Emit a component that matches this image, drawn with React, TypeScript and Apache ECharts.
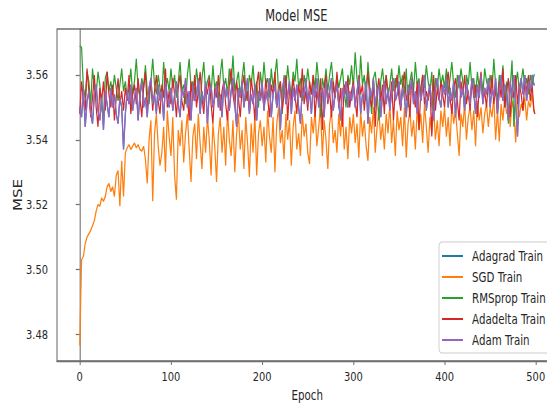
import React, { useEffect, useRef } from "react";
import * as echarts from "echarts";

// sample epochs (x positions of the read-off points)
const epochs = [...Array.from({ length: 250 }, (_, i) => i * 2), 499];

const seriesNames = ["Adagrad Train", "SGD Train", "RMSprop Train", "Adadelta Train", "Adam Train"];
const seriesColors = ["#1f77b4", "#ff7f0e", "#2ca02c", "#d62728", "#9467bd"];

const xTicks = [0, 100, 200, 300, 400, 500];
const yTicks = [3.48, 3.5, 3.52, 3.54, 3.56];

const sgdTrain = [
  3.4765, 3.5030, 3.5040, 3.5080, 3.5100, 3.5110, 3.5120, 3.5135, 3.5150, 3.5180, 3.5200, 3.5195, 3.5220, 3.5210, 3.5225, 3.5255, 3.5265, 3.5240, 3.5255, 3.5225, 3.5290, 3.5305, 3.5195, 3.5335, 3.5225,
  3.5360, 3.5375, 3.5385, 3.5370, 3.5380, 3.5390, 3.5375, 3.5385, 3.5370, 3.5365, 3.5380, 3.5340, 3.5265, 3.5400, 3.5460, 3.5210, 3.5420, 3.5480, 3.5380, 3.5320, 3.5360, 3.5440, 3.5300, 3.5490, 3.5410,
  3.5350, 3.5470, 3.5290, 3.5215, 3.5430, 3.5380, 3.5460, 3.5330, 3.5420, 3.5480, 3.5370, 3.5270, 3.5410, 3.5450, 3.5340, 3.5480, 3.5390, 3.5310, 3.5440, 3.5360, 3.5470, 3.5400, 3.5290, 3.5450, 3.5380,
  3.5270, 3.5420, 3.5470, 3.5360, 3.5440, 3.5320, 3.5490, 3.5400, 3.5350, 3.5460, 3.5300, 3.5420, 3.5480, 3.5370, 3.5430, 3.5310, 3.5470, 3.5390, 3.5285, 3.5450, 3.5360, 3.5480, 3.5290, 3.5420, 3.5460,
  3.5380, 3.5440, 3.5330, 3.5490, 3.5410, 3.5360, 3.5470, 3.5300, 3.5450, 3.5500, 3.5390, 3.5430, 3.5340, 3.5480, 3.5400, 3.5460, 3.5320, 3.5440, 3.5490, 3.5370, 3.5420, 3.5350, 3.5480, 3.5410, 3.5450,
  3.5360, 3.5325, 3.5470, 3.5420, 3.5490, 3.5380, 3.5440, 3.5500, 3.5350, 3.5460, 3.5400, 3.5310, 3.5450, 3.5490, 3.5390, 3.5430, 3.5360, 3.5480, 3.5410, 3.5500, 3.5370, 3.5440, 3.5340, 3.5470, 3.5420,
  3.5480, 3.5390, 3.5450, 3.5345, 3.5490, 3.5410, 3.5460, 3.5380, 3.5335, 3.5470, 3.5420, 3.5500, 3.5360, 3.5440, 3.5490, 3.5400, 3.5450, 3.5370, 3.5480, 3.5420, 3.5510, 3.5390, 3.5460, 3.5350, 3.5490,
  3.5430, 3.5470, 3.5380, 3.5500, 3.5345, 3.5450, 3.5490, 3.5410, 3.5460, 3.5370, 3.5500, 3.5430, 3.5480, 3.5390, 3.5510, 3.5440, 3.5360, 3.5470, 3.5420, 3.5500, 3.5400, 3.5460, 3.5380, 3.5490, 3.5440,
  3.5500, 3.5410, 3.5470, 3.5380, 3.5510, 3.5450, 3.5490, 3.5420, 3.5350, 3.5480, 3.5440, 3.5510, 3.5400, 3.5470, 3.5500, 3.5430, 3.5490, 3.5380, 3.5520, 3.5460, 3.5500, 3.5420, 3.5480, 3.5510, 3.5440,
  3.5500, 3.5470, 3.5530, 3.5400, 3.5490, 3.5395, 3.5510, 3.5460, 3.5530, 3.5480, 3.5510, 3.5440, 3.5520, 3.5490, 3.5392, 3.5530, 3.5470, 3.5510, 3.5490, 3.5530, 3.5460, 3.5520, 3.5500, 3.5540, 3.5490,
  3.5480,
];

const rmspropTrain = [
  3.5690, 3.5685, 3.5560, 3.5530, 3.5610, 3.5580, 3.5510, 3.5620, 3.5560, 3.5540, 3.5610, 3.5570, 3.5500, 3.5470, 3.5590, 3.5610, 3.5550, 3.5580, 3.5540, 3.5600, 3.5560, 3.5520, 3.5570, 3.5620, 3.5550,
  3.5580, 3.5530, 3.5560, 3.5620, 3.5540, 3.5580, 3.5650, 3.5560, 3.5530, 3.5590, 3.5560, 3.5630, 3.5550, 3.5510, 3.5580, 3.5650, 3.5570, 3.5540, 3.5600, 3.5560, 3.5530, 3.5640, 3.5560, 3.5590, 3.5550,
  3.5620, 3.5560, 3.5600, 3.5530, 3.5580, 3.5640, 3.5550, 3.5570, 3.5510, 3.5600, 3.5650, 3.5560, 3.5580, 3.5540, 3.5620, 3.5570, 3.5500, 3.5590, 3.5640, 3.5550, 3.5580, 3.5600, 3.5540, 3.5630, 3.5560,
  3.5580, 3.5520, 3.5600, 3.5650, 3.5560, 3.5590, 3.5540, 3.5620, 3.5570, 3.5660, 3.5550, 3.5580, 3.5610, 3.5530, 3.5590, 3.5640, 3.5560, 3.5520, 3.5600, 3.5570, 3.5630, 3.5550, 3.5580, 3.5500, 3.5610,
  3.5560, 3.5640, 3.5570, 3.5590, 3.5530, 3.5620, 3.5560, 3.5600, 3.5650, 3.5550, 3.5580, 3.5480, 3.5600, 3.5560, 3.5630, 3.5570, 3.5540, 3.5610, 3.5580, 3.5650, 3.5560, 3.5590, 3.5520, 3.5600, 3.5560,
  3.5620, 3.5570, 3.5540, 3.5600, 3.5560, 3.5640, 3.5580, 3.5470, 3.5590, 3.5560, 3.5620, 3.5550, 3.5600, 3.5640, 3.5570, 3.5530, 3.5600, 3.5560, 3.5590, 3.5620, 3.5550, 3.5500, 3.5600, 3.5570, 3.5630,
  3.5560, 3.5670, 3.5590, 3.5540, 3.5660, 3.5570, 3.5600, 3.5520, 3.5640, 3.5560, 3.5480, 3.5590, 3.5610, 3.5550, 3.5460, 3.5580, 3.5620, 3.5560, 3.5600, 3.5530, 3.5570, 3.5620, 3.5550, 3.5590, 3.5560,
  3.5630, 3.5570, 3.5600, 3.5540, 3.5620, 3.5500, 3.5580, 3.5610, 3.5550, 3.5640, 3.5570, 3.5590, 3.5520, 3.5600, 3.5560, 3.5630, 3.5580, 3.5550, 3.5610, 3.5490, 3.5590, 3.5560, 3.5620, 3.5570, 3.5600,
  3.5560, 3.5620, 3.5540, 3.5590, 3.5640, 3.5570, 3.5530, 3.5600, 3.5560, 3.5620, 3.5580, 3.5500, 3.5600, 3.5570, 3.5640, 3.5560, 3.5590, 3.5530, 3.5610, 3.5560, 3.5600, 3.5540, 3.5620, 3.5580, 3.5560,
  3.5600, 3.5550, 3.5650, 3.5570, 3.5520, 3.5600, 3.5560, 3.5630, 3.5500, 3.5580, 3.5450, 3.5560, 3.5645, 3.5440, 3.5570, 3.5610, 3.5550, 3.5580, 3.5620, 3.5560, 3.5590, 3.5540, 3.5600, 3.5570, 3.5600,
  3.5600,
];

const adadeltaTrain = [
  3.5480, 3.5580, 3.5520, 3.5490, 3.5620, 3.5550, 3.5470, 3.5530, 3.5600, 3.5500, 3.5440, 3.5560, 3.5520, 3.5580, 3.5490, 3.5610, 3.5540, 3.5500, 3.5570, 3.5460, 3.5530, 3.5590, 3.5510, 3.5550, 3.5490,
  3.5560, 3.5520, 3.5600, 3.5480, 3.5540, 3.5570, 3.5510, 3.5590, 3.5530, 3.5470, 3.5560, 3.5610, 3.5500, 3.5540, 3.5580, 3.5490, 3.5550, 3.5600, 3.5520, 3.5480, 3.5570, 3.5530, 3.5620, 3.5500, 3.5550,
  3.5510, 3.5590, 3.5540, 3.5470, 3.5560, 3.5600, 3.5520, 3.5490, 3.5570, 3.5540, 3.5460, 3.5580, 3.5520, 3.5600, 3.5500, 3.5550, 3.5610, 3.5530, 3.5480, 3.5570, 3.5540, 3.5590, 3.5510, 3.5450, 3.5560,
  3.5530, 3.5600, 3.5490, 3.5550, 3.5580, 3.5510, 3.5460, 3.5570, 3.5620, 3.5540, 3.5500, 3.5580, 3.5530, 3.5470, 3.5560, 3.5600, 3.5520, 3.5550, 3.5490, 3.5590, 3.5540, 3.5460, 3.5570, 3.5610, 3.5520,
  3.5560, 3.5500, 3.5590, 3.5530, 3.5470, 3.5570, 3.5540, 3.5610, 3.5500, 3.5550, 3.5580, 3.5490, 3.5540, 3.5600, 3.5460, 3.5560, 3.5520, 3.5590, 3.5540, 3.5480, 3.5570, 3.5530, 3.5620, 3.5510, 3.5550,
  3.5490, 3.5580, 3.5540, 3.5600, 3.5470, 3.5550, 3.5520, 3.5590, 3.5430, 3.5560, 3.5600, 3.5510, 3.5550, 3.5470, 3.5580, 3.5530, 3.5610, 3.5500, 3.5560, 3.5440, 3.5570, 3.5540, 3.5590, 3.5500, 3.5550,
  3.5580, 3.5520, 3.5470, 3.5600, 3.5540, 3.5570, 3.5490, 3.5560, 3.5610, 3.5530, 3.5500, 3.5580, 3.5440, 3.5550, 3.5590, 3.5520, 3.5570, 3.5480, 3.5600, 3.5540, 3.5510, 3.5580, 3.5460, 3.5560, 3.5600,
  3.5530, 3.5490, 3.5570, 3.5610, 3.5520, 3.5550, 3.5470, 3.5590, 3.5540, 3.5500, 3.5580, 3.5430, 3.5560, 3.5600, 3.5510, 3.5550, 3.5520, 3.5570, 3.5410, 3.5600, 3.5490, 3.5560, 3.5520, 3.5580, 3.5540,
  3.5500, 3.5570, 3.5610, 3.5530, 3.5480, 3.5560, 3.5590, 3.5520, 3.5460, 3.5580, 3.5540, 3.5600, 3.5510, 3.5550, 3.5490, 3.5590, 3.5530, 3.5570, 3.5470, 3.5560, 3.5610, 3.5520, 3.5550, 3.5500, 3.5580,
  3.5540, 3.5600, 3.5510, 3.5560, 3.5480, 3.5580, 3.5530, 3.5620, 3.5500, 3.5550, 3.5590, 3.5470, 3.5560, 3.5530, 3.5600, 3.5510, 3.5570, 3.5540, 3.5490, 3.5580, 3.5550, 3.5600, 3.5520, 3.5570, 3.5490,
  3.5480,
];

const adamTrain = [
  3.5500, 3.5470, 3.5560, 3.5440, 3.5520, 3.5550, 3.5480, 3.5450, 3.5540, 3.5570, 3.5490, 3.5460, 3.5530, 3.5430, 3.5550, 3.5510, 3.5470, 3.5560, 3.5500, 3.5540, 3.5480, 3.5450, 3.5530, 3.5500, 3.5370,
  3.5480, 3.5550, 3.5510, 3.5570, 3.5490, 3.5530, 3.5560, 3.5460, 3.5540, 3.5580, 3.5500, 3.5530, 3.5470, 3.5560, 3.5590, 3.5510, 3.5540, 3.5480, 3.5570, 3.5520, 3.5550, 3.5460, 3.5580, 3.5530, 3.5500,
  3.5560, 3.5490, 3.5540, 3.5580, 3.5510, 3.5470, 3.5560, 3.5530, 3.5590, 3.5500, 3.5550, 3.5460, 3.5570, 3.5520, 3.5540, 3.5590, 3.5480, 3.5550, 3.5510, 3.5580, 3.5450, 3.5540, 3.5570, 3.5500, 3.5530,
  3.5570, 3.5500, 3.5540, 3.5470, 3.5580, 3.5530, 3.5560, 3.5490, 3.5550, 3.5590, 3.5510, 3.5440, 3.5560, 3.5530, 3.5580, 3.5500, 3.5550, 3.5590, 3.5480, 3.5540, 3.5510, 3.5570, 3.5460, 3.5550, 3.5520,
  3.5580, 3.5490, 3.5550, 3.5520, 3.5590, 3.5470, 3.5540, 3.5570, 3.5500, 3.5560, 3.5430, 3.5550, 3.5590, 3.5510, 3.5540, 3.5580, 3.5480, 3.5560, 3.5520, 3.5570, 3.5500, 3.5450, 3.5560, 3.5530, 3.5590,
  3.5510, 3.5550, 3.5480, 3.5570, 3.5530, 3.5590, 3.5500, 3.5540, 3.5560, 3.5470, 3.5580, 3.5520, 3.5550, 3.5590, 3.5490, 3.5540, 3.5570, 3.5510, 3.5460, 3.5560, 3.5530, 3.5580, 3.5500, 3.5550, 3.5520,
  3.5570, 3.5500, 3.5550, 3.5590, 3.5480, 3.5540, 3.5520, 3.5580, 3.5450, 3.5560, 3.5530, 3.5590, 3.5500, 3.5550, 3.5570, 3.5470, 3.5540, 3.5580, 3.5510, 3.5560, 3.5490, 3.5550, 3.5590, 3.5520, 3.5540,
  3.5580, 3.5500, 3.5560, 3.5530, 3.5470, 3.5570, 3.5540, 3.5590, 3.5510, 3.5550, 3.5480, 3.5580, 3.5520, 3.5560, 3.5600, 3.5490, 3.5540, 3.5570, 3.5510, 3.5460, 3.5560, 3.5590, 3.5530, 3.5500, 3.5570,
  3.5540, 3.5590, 3.5500, 3.5560, 3.5520, 3.5580, 3.5470, 3.5550, 3.5600, 3.5530, 3.5560, 3.5490, 3.5580, 3.5540, 3.5510, 3.5590, 3.5550, 3.5480, 3.5570, 3.5530, 3.5600, 3.5510, 3.5560, 3.5540, 3.5590,
  3.5500, 3.5560, 3.5530, 3.5590, 3.5480, 3.5550, 3.5600, 3.5520, 3.5570, 3.5540, 3.5460, 3.5580, 3.5530, 3.5600, 3.5510, 3.5410, 3.5560, 3.5590, 3.5540, 3.5600, 3.5520, 3.5580, 3.5550, 3.5600, 3.5570,
  3.5570,
];

// Adagrad is never visible in the reference: it lies hidden beneath the Adam curve.
const adagradTrain = [...adamTrain];

// The reference picture is horizontally squeezed; the chart is drawn wider and squeezed by CSS.
const SQUEEZE = 0.76;
const FONT = "'DejaVu Sans', sans-serif";
const TEXT = "#262626";
const SPINE = "#6e6e6e";
const sx = (px: number) => px / SQUEEZE;

export default function App() {
  const ref = useRef<HTMLDivElement>(null);

  useEffect(() => {
    if (!ref.current) return;
    const chart = echarts.init(ref.current, undefined, { renderer: "svg" });
    const values = [adagradTrain, sgdTrain, rmspropTrain, adadeltaTrain, adamTrain];
    const series = values.map((vals, k) => ({
      name: seriesNames[k],
      type: "line",
      data: vals.map((v, i) => [epochs[i] ?? 499, v]),
      showSymbol: false,
      symbol: "none",
      lineStyle: { width: 1.6, color: seriesColors[k] },
      itemStyle: { color: seriesColors[k] },
      z: 2 + k,
    }));

    chart.setOption({
      animation: false,
      backgroundColor: "#ffffff",
      title: {
        text: "Model MSE",
        left: sx(292.5),
        top: 3,
        textAlign: "center",
        textStyle: { fontFamily: FONT, fontSize: 15, fontWeight: "normal", color: TEXT },
      },
      legend: {
        orient: "vertical",
        left: sx(439),
        top: 242,
        padding: [7, 12, 6, sx(3)],
        itemGap: 7,
        itemWidth: sx(21),
        itemHeight: 2,
        icon: "rect",
        backgroundColor: "rgba(255,255,255,0.8)",
        borderColor: "#cccccc",
        borderWidth: 1.2,
        borderRadius: 4,
        textStyle: { fontFamily: FONT, fontSize: 13.5, color: TEXT, lineHeight: 14, padding: [0, 0, 0, 7] },
        data: seriesNames,
      },
      grid: {
        left: sx(57),
        top: 29,
        width: sx(557.6 - 57),
        height: 332,
        show: true,
        containLabel: false,
        outerBoundsMode: "none",
        borderColor: SPINE,
        borderWidth: 1.4,
        backgroundColor: "transparent",
      },
      xAxis: {
        type: "value",
        min: -24.95,
        max: 523.95,
        name: "Epoch",
        nameLocation: "middle",
        nameGap: 27,
        nameMoveOverlap: false,
        nameTextStyle: { fontFamily: FONT, fontSize: 13.5, color: TEXT },
        axisLine: { show: true, lineStyle: { color: SPINE, width: 1.4 } },
        axisTick: { show: true, length: 4, lineStyle: { color: SPINE, width: 1.3 }, customValues: xTicks },
        axisLabel: {
          fontFamily: FONT,
          fontSize: 13,
          color: TEXT,
          margin: 9,
          customValues: xTicks,
          formatter: (v: number) => String(v),
        },
        splitLine: { show: false },
      },
      yAxis: {
        type: "value",
        min: 3.4717,
        max: 3.5742,
        name: "MSE",
        nameLocation: "middle",
        nameGap: 43,
        nameMoveOverlap: false,
        nameTextStyle: { fontFamily: FONT, fontSize: 15, color: TEXT },
        axisLine: { show: true, lineStyle: { color: SPINE, width: 1.4 } },
        axisTick: { show: true, length: sx(4), lineStyle: { color: SPINE, width: 1.2 }, customValues: yTicks },
        axisLabel: {
          fontFamily: FONT,
          fontSize: 13,
          color: TEXT,
          margin: sx(9),
          customValues: yTicks,
          formatter: (v: number) => v.toFixed(2),
        },
        splitLine: { show: false },
      },
      series,
    });

    return () => chart.dispose();
  }, []);

  return (
    <div style={{ position: "fixed", left: 0, top: 0, width: 547, height: 407, overflow: "hidden", background: "#fff" }}>
      <div
        ref={ref}
        style={{
          width: Math.round(547 / SQUEEZE),
          height: 407,
          transform: `scaleX(${SQUEEZE})`,
          transformOrigin: "0 0",
        }}
      />
    </div>
  );
}
